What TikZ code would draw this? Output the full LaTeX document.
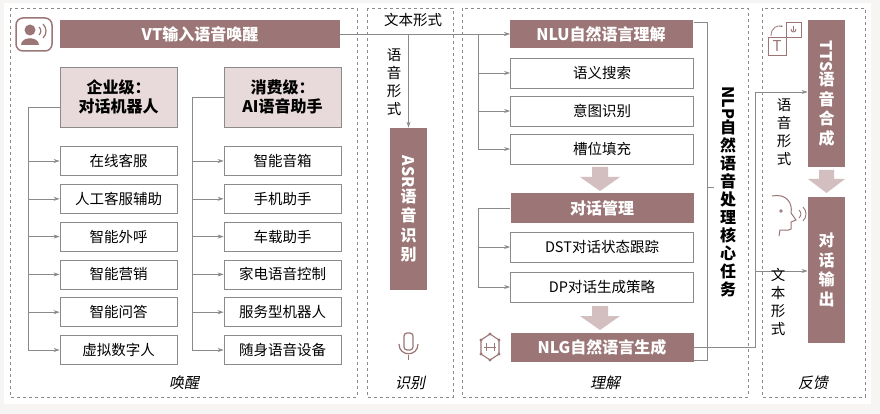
\documentclass[tikz,border=0pt]{standalone}
\usepackage{fontspec}
\setmainfont{Noto Sans CJK SC}
\newfontfamily\slantcjk[FakeSlant=0.2]{Noto Sans CJK SC}
\usetikzlibrary{arrows.meta}
\definecolor{barc}{HTML}{9C7676}
\definecolor{lightc}{HTML}{E8DADA}
\definecolor{linec}{HTML}{8A8A8A}
\definecolor{arrc}{HTML}{D3BFBF}
\newcommand{\itemfont}{\fontsize{14.5}{18}\selectfont}
\newcommand{\barfont}{\fontsize{16}{19.5}\selectfont\bfseries}
\tikzset{every picture/.style={line width=0.75pt}}
\tikzset{
  bar/.style={fill=barc,text=white,font=\barfont,inner sep=0pt,align=center},
  item/.style={draw=linec,fill=white,font=\itemfont,inner sep=0pt,minimum height=29pt},
  head/.style={draw=linec,fill=lightc,font=\barfont,inner sep=0pt,align=center,minimum width=117pt,minimum height=60pt},
  panel/.style={draw=linec,dashed,line width=0.5pt},
  link/.style={draw=linec,line width=0.6pt},
  tip/.style={-{Stealth[length=6pt,width=4pt]}},
  fat/.style={fill=arrc,draw=none},
  vlab/.style={font=\itemfont,align=center,inner sep=0pt},
  plab/.style={font=\fontsize{15}{18}\selectfont\slantcjk},
}
\begin{document}
\begin{tikzpicture}[x=1pt,y=1pt,yscale=-1]
\useasboundingbox (0,0) rectangle (880,414);
\fill[white!92!barc] (0,0) rectangle (880,414);
\fill[white] (4,3) rectangle (871,404);

%Panels
\draw[panel] (10,8) rectangle (357,397);
\draw[panel] (367,8) rectangle (453,397);
\draw[panel] (462,8) rectangle (748,397);
\draw[panel] (762,8) rectangle (865,397);
\node[plab] at (184,383) {唤醒};
\node[plab] at (410,383) {识别};
\node[plab] at (605,383) {理解};
\node[plab] at (813,383) {反馈};

%Wake up
\node[bar,minimum width=280pt,minimum height=28pt] (vt) at (200,34) {VT输入语音唤醒};
\draw[barc,line width=1.5pt,rounded corners=7pt] (16,18) rectangle (52,51);
\fill[barc] (30,30) circle (5.5pt);
\fill[barc] (21,45) .. controls (21,36) and (39,36) .. (39,45) -- cycle;
\draw[barc,line width=1.2pt] (39,27) .. controls (41.5,29.5) and (41.5,32.5) .. (39,35);
\draw[barc,line width=1.2pt] (43,24) .. controls (47,28) and (47,34) .. (43,38);

\node[head] (ent) at (118.5,97) {企业级：\\对话机器人};
\node[head] (con) at (282.5,97) {消费级：\\AI语音助手};
\foreach \n/\a/\b [count=\i] in {1/在线客服/智能音箱,2/人工客服辅助/手机助手,3/智能外呼/车载助手,4/智能营销/家电语音控制,5/智能问答/服务型机器人,6/虚拟数字人/随身语音设备}{
  \pgfmathsetmacro\yy{161+37.8*(\i-1)}
  \node[item,minimum width=117pt] (l\i) at (118.5,\yy) {\a};
  \node[item,minimum width=117pt] (r\i) at (282.5,\yy) {\b};
  \draw[link,tip] (28,\yy) -- (l\i.west);
  \draw[link,tip] (192,\yy) -- (r\i.west);
}
\draw[link] (ent.west|-0,107) -- (28,107) -- (28,350);
\draw[link] (con.west) -- (192,97) -- (192,350);

%Recognition
\node[bar,minimum width=37pt,minimum height=162pt] (asr) at (408.5,209) {\rotatebox{-90}{ASR}\\语\\音\\识\\别};
\draw[link,tip] (vt.east) -- (510,34);
\draw[link,tip] (408.5,34) -- (asr.north);
\node[font=\itemfont] at (413,20) {文本形式};
\node[vlab] at (394,82) {语\\音\\形\\式};
\draw[barc,line width=1.2pt,rounded corners=3pt] (404,333) rectangle (413,350);
\draw[barc,line width=1.2pt] (399,344) .. controls (399,357) and (418,357) .. (418,344);
\draw[barc,line width=1.2pt] (408.5,355) -- (408.5,360);

%Understanding
\node[bar,minimum width=183pt,minimum height=28pt] (nlu) at (601,34) {NLU自然语言理解};
\node[item,minimum width=183pt,minimum height=30pt] (u1) at (602,73) {语义搜索};
\node[item,minimum width=183pt,minimum height=30pt] (u2) at (602,111) {意图识别};
\node[item,minimum width=183pt,minimum height=30pt] (u3) at (602,149) {槽位填充};
\draw[link] (478,34) -- (478,149);
\foreach \t in {u1,u2,u3} \draw[link,tip] (478,0|-\t.west) -- (\t.west);
\fill[fat] (592,167) -- (608,167) -- (608,177) -- (620,177) -- (600,191) -- (580,177) -- (592,177) -- cycle;
\node[bar,minimum width=183pt,minimum height=30pt] (dm) at (602,208) {对话管理};
\node[item,minimum width=183pt,minimum height=30pt] (d1) at (602,247) {DST对话状态跟踪};
\node[item,minimum width=183pt,minimum height=30pt] (d2) at (602,287) {DP对话生成策略};
\draw[link] (dm.west) -- (478,208) -- (478,287);
\foreach \t in {d1,d2} \draw[link,tip] (478,0|-\t.west) -- (\t.west);
\fill[fat] (592,306) -- (608,306) -- (608,316) -- (620,316) -- (600,330) -- (580,316) -- (592,316) -- cycle;
\node[bar,minimum width=183pt,minimum height=29pt] (nlg) at (602,347) {NLG自然语言生成};
\draw[barc,line width=1.1pt] (481,340) -- (490,334) -- (499,340) -- (499,354) -- (490,360) -- (481,354) -- cycle;
\draw[barc,line width=1pt] (484,347) -- (496,347);
\draw[barc,line width=0.8pt] (486,343) -- (486,351) (494,343) -- (494,351);
\foreach \p in {(490,334),(499,340),(499,354),(490,360),(481,354),(481,340)} \fill[barc] \p circle (1.6pt);

%NLP brace
\draw[link] (694,22) -- (707,22) -- (707,360) -- (694,360);
\draw[link] (707,187) -- (714,187);
\node[font=\fontsize{16}{18}\selectfont\bfseries,align=center,inner sep=0pt] (nlp) at (728,192) {\rotatebox{-90}{NLP}\\自\\然\\语\\音\\处\\理\\核\\心\\任\\务};

%Feedback
\node[bar,minimum width=37pt,minimum height=147pt] (tts) at (826.5,93.5) {\rotatebox{-90}{TTS}\\语\\音\\合\\成};
\node[bar,minimum width=37pt,minimum height=146pt] (out) at (826.5,270) {对\\话\\输\\出};
\fill[fat] (819,170) -- (834,170) -- (834,179) -- (845,179) -- (826.5,193) -- (808,179) -- (819,179) -- cycle;
\draw[link] (nlg.east) -- (755,347) -- (755,92);
\draw[link,tip] (755,92) -- (tts.west|-0,92);
\draw[link,tip] (755,271) -- (out.west|-0,271);
\node[vlab] at (784,132) {语\\音\\形\\式};
\node[vlab] at (778,302) {文\\本\\形\\式};
%T icon
\draw[barc,line width=0.9pt,fill=white] (768,37) rectangle (786,55);
\node[font=\fontsize{15}{15}\selectfont,text=barc,inner sep=0pt] at (777,46.5) {T};
\draw[barc,line width=0.9pt] (786,22) rectangle (801,37);
\draw[barc,line width=0.9pt] (793.5,26) -- (793.5,31) (791,29) .. controls (791,33) and (796,33) .. (796,29);
\draw[barc,line width=0.8pt,-{Stealth[length=3pt]}] (771,36) .. controls (771,27) and (778,25) .. (783,27);
%Head icon
\draw[barc,line width=1pt] (772,196) .. controls (786,193) and (793,203) .. (791,213) -- (796,220) -- (791,222) -- (791,229) .. controls (788,231) and (784,230) .. (780,230) -- (779,236);
\draw[barc,line width=0.8pt] (781,211) circle (1.2pt);
\draw[barc,line width=0.9pt] (799,210) .. controls (801.5,212.5) and (801.5,215.5) .. (799,218);
\draw[barc,line width=0.9pt] (803,207) .. controls (807,211) and (807,217) .. (803,221);
\end{tikzpicture}
\end{document}
